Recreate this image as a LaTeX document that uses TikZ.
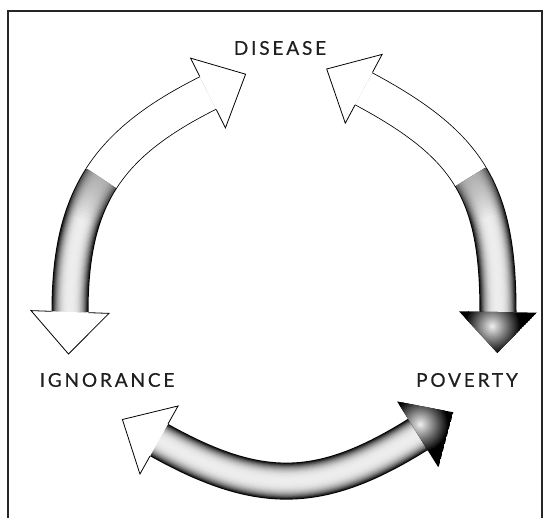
\documentclass[tikz,border=0pt]{standalone}
\usepackage{fontspec}
\newfontfamily\labfont[LetterSpace=15,FakeBold=0.4]{Lato}
\usetikzlibrary{calc}
\newcommand\tubepath[1]{%
  \foreach \i in {0,...,19}{%
    \pgfmathsetmacro\uu{1-\i/20}%
    \pgfmathsetmacro\ww{37*\uu}%
    \pgfmathsetmacro\lev{93*(1-\uu^3)}%
    \draw[line width=\ww pt, color=white!\lev!black] #1;
  }}
% darkening of a tube towards its end (time 1), in overlapping slices
\newcommand\tubedark[4]{%
  \foreach \s in {0.64,0.665,...,0.98}{%
    \begin{scope}[line width=35pt, color=black!45, draw opacity=0.055]
      \pgfpathcurvebetweentime{\s}{1}{\pgfpointanchor{#1}{center}}{\pgfpointanchor{#2}{center}}{\pgfpointanchor{#3}{center}}{\pgfpointanchor{#4}{center}}
      \pgfusepath{stroke}
    \end{scope}
  }}
\newcommand\whitepath[1]{%
  \draw[line width=37pt, black] #1;
  \draw[line width=35.4pt, white] #1;}
\newcommand\whitehead[2]{%
  \fill[white] ($(#1)!39pt!90:(#2)$) -- (#2) -- ($(#1)!39pt!-90:(#2)$) -- cycle;
  \draw[outline] ($(#1)!18.5pt!90:(#2)$) -- ($(#1)!39pt!90:(#2)$) -- (#2)
     -- ($(#1)!39pt!-90:(#2)$) -- ($(#1)!18.5pt!-90:(#2)$);}
\newcommand\darkhead[3]{%
  \begin{scope}
    \clip ($(#1)!39pt!90:(#2)$) -- (#2) -- ($(#1)!39pt!-90:(#2)$) -- cycle;
    \fill[black] ($(#1)!39pt!90:(#2)$) -- (#2) -- ($(#1)!39pt!-90:(#2)$) -- cycle;
    \shade[inner color=white!94!black, outer color=black] (#3) circle (28);
  \end{scope}}
\begin{document}
\begin{tikzpicture}[x=1pt,y=-1pt,
  lbl/.style={font=\labfont\fontsize{19}{22}\selectfont, text=black!88, inner sep=0pt},
  frame/.style={draw=black!85, line width=1.3pt},
  outline/.style={draw=black, line width=0.8pt, line join=miter},
]
\useasboundingbox (0,0) rectangle (549,518);
\fill[white] (0,0) rectangle (549,518);
\draw[frame] (8,540) -- (8,11) -- (542,11) -- (542,540);

% left arc (IGNORANCE <-> DISEASE)
\coordinate (L0) at (70,312);
\coordinate (La) at (70,254.5);
\coordinate (Lb) at (79.475,212.275);
\coordinate (LS) at (101.46,178.16);
\coordinate (Lc) at (123.45,144.05);
\coordinate (Ld) at (157.95,118.05);
\coordinate (L3) at (208,93);
\coordinate (LT0) at (68.5,354);
\coordinate (LT3) at (245.6,74.2);
\tubepath{(L0) .. controls (La) and (Lb) .. (LS)}
\tubedark{L0}{La}{Lb}{LS}
\whitepath{(LS) .. controls (Lc) and (Ld) .. (L3)}
\whitehead{L0}{LT0}
\whitehead{L3}{LT3}

% right arc (DISEASE <-> POVERTY)
\coordinate (R0) at (498,312);
\coordinate (Ra) at (498,252);
\coordinate (Rb) at (490.85,210.35);
\coordinate (RS) at (470.49,176.63);
\coordinate (Rc) at (450.125,142.9);
\coordinate (Rd) at (416.55,117.1);
\coordinate (R3) at (363.7,88.8);
\coordinate (RT0) at (497.3,353);
\coordinate (RT3) at (326.7,69);
\coordinate (RL) at (492,326);
\tubepath{(R0) .. controls (Ra) and (Rb) .. (RS)}
\tubedark{R0}{Ra}{Rb}{RS}
\whitepath{(RS) .. controls (Rc) and (Rd) .. (R3)}
\whitehead{R3}{RT3}
\darkhead{R0}{RT0}{RL}

% bottom arc (IGNORANCE <-> POVERTY)
\coordinate (B0) at (159,440);
\coordinate (Ba) at (259.3,496.1);
\coordinate (Bb) at (320.5,495.3);
\coordinate (B3) at (417.8,434.5);
\coordinate (BT0) at (122.4,419.5);
\coordinate (BT3) at (453.3,412.3);
\coordinate (BL) at (420,424);
\tubepath{(B0) .. controls (Ba) and (Bb) .. (B3)}
\whitehead{B0}{BT0}
\darkhead{B3}{BT3}{BL}

\node[lbl] (dis) at (280,48) {DISEASE};
\node[lbl] (ign) at (107,380) {IGNORANCE};
\node[lbl] (pov) at (467,380) {POVERTY};
\end{tikzpicture}
\end{document}
